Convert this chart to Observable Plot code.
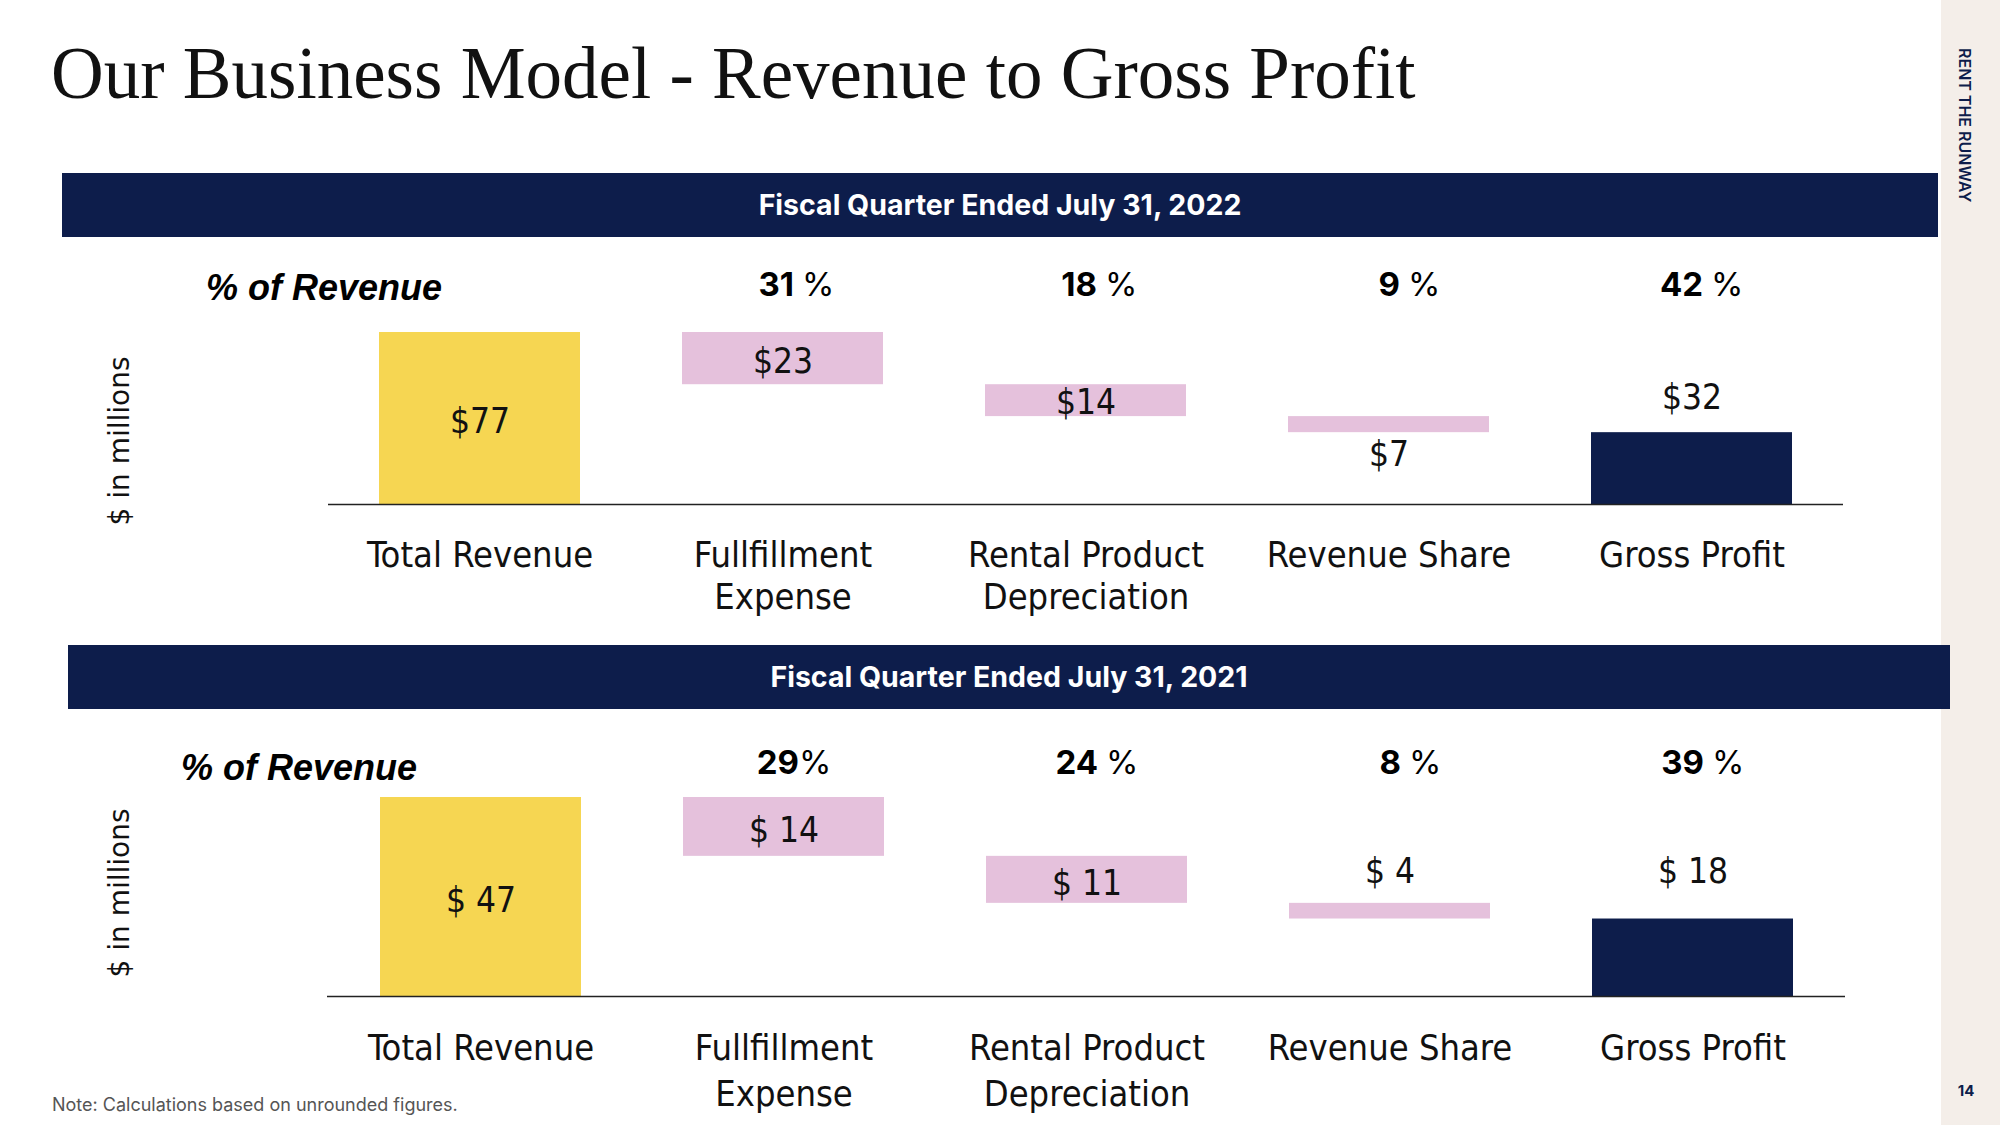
<!DOCTYPE html>
<html>
<head>
<meta charset="utf-8">
<script src="https://cdn.jsdelivr.net/npm/d3@7"></script>
<script src="https://cdn.jsdelivr.net/npm/@observablehq/plot@0.6"></script>
<style>
  html, body { margin: 0; padding: 0; background: #fff; }
  #page { position: relative; width: 2000px; height: 1125px; overflow: hidden; background: #fff; }
  .abs { position: absolute; line-height: 1; white-space: nowrap; }
  #title { left: 51px; top: 37px; font-family: "Liberation Serif", "DejaVu Serif", serif; font-size: 73px; color: #111; }
  .banner { position: absolute; background: #0d1d4b; display: flex; align-items: center; justify-content: center;
            color: #fff; font-family: Inter, "Liberation Sans", sans-serif; font-weight: 700; font-size: 28.5px; line-height: 1; }
  #sidebar { left: 1941px; top: 0; width: 59px; height: 1125px; background: #f4eee9; }
  #brand { left: 1957px; top: 48px; writing-mode: vertical-rl; font-family: Inter, "Liberation Sans", sans-serif;
           font-weight: 600; font-size: 16px; letter-spacing: 0px; color: #0d1d4b; }
  #pageno { left: 1966px; top: 1090px; transform: translate(-50%, -50%); font-family: Inter, "Liberation Sans", sans-serif;
            font-weight: 700; font-size: 15px; color: #0d1d4b; }
  .pctrev { font-family: "Liberation Sans", Arial, sans-serif; font-weight: 700; font-style: italic; font-size: 36px; color: #000; }
  .ylab { transform: translate(-50%, -50%) rotate(-90deg); font-family: "DejaVu Sans", sans-serif; font-size: 28px; color: #111; }
  #note { left: 52px; top: 1096px; font-family: Inter, "Liberation Sans", sans-serif; font-size: 18px; color: #555; }
  .chart { position: absolute; left: 0; }
</style>
</head>
<body>
<div id="page">
  <div id="sidebar" class="abs"></div>
  <div id="brand" class="abs"></div>
  <div id="pageno" class="abs"></div>
  <div id="title" class="abs"></div>
  <div id="banner1" class="banner" style="left:62px;top:173px;width:1876px;height:64px;"></div>
  <div id="banner2" class="banner" style="left:68px;top:645px;width:1882px;height:64px;"></div>
  <div id="pct1" class="abs pctrev" style="left:206px;top:270px;"></div>
  <div id="pct2" class="abs pctrev" style="left:181px;top:750px;"></div>
  <div id="ylab1" class="abs ylab" style="left:120px;top:441px;"></div>
  <div id="ylab2" class="abs ylab" style="left:120px;top:893px;"></div>
  <div id="chart1" class="chart" style="top:250px;"></div>
  <div id="chart2" class="chart" style="top:720px;"></div>
  <div id="note" class="abs"></div>
</div>
<script>
// ---------- data ----------
const titleText = "Our Business Model - Revenue to Gross Profit";
const brandText = "RENT THE RUNWAY";
const pageNumber = "14";
const pctHeader = "% of Revenue";
const yAxisLabel = "$ in millions";
const noteText = "Note: Calculations based on unrounded figures.";

const categories = ["Total Revenue", "Fullfillment\nExpense", "Rental Product\nDepreciation", "Revenue Share", "Gross Profit"];
const kinds = ["total", "cost", "cost", "cost", "profit"];

const banner2022 = "Fiscal Quarter Ended July 31, 2022";
const values2022 = [77.1, 23.4, 14.3, 7.2, 32.2];
const labels2022 = ["$77", "$23", "$14", "$7", "$32"];
const pct2022 = ["31 %", "18 %", "9 %", "42 %"];

const banner2021 = "Fiscal Quarter Ended July 31, 2021";
const values2021 = [47.0, 13.9, 11.1, 3.7, 18.3];
const labels2021 = ["$ 47", "$ 14", "$ 11", "$ 4", "$ 18"];
const pct2021 = ["29%", "24 %", "8 %", "39 %"];

// ---------- static text ----------
document.getElementById("title").textContent = titleText;
document.getElementById("brand").textContent = brandText;
document.getElementById("pageno").textContent = pageNumber;
document.getElementById("banner1").textContent = banner2022;
document.getElementById("banner2").textContent = banner2021;
document.getElementById("pct1").textContent = pctHeader;
document.getElementById("pct2").textContent = pctHeader;
document.getElementById("ylab1").textContent = yAxisLabel;
document.getElementById("ylab2").textContent = yAxisLabel;
document.getElementById("note").textContent = noteText;

// ---------- chart ----------
const COLORS = {total: "#f6d652", cost: "#e5c1dc", profit: "#0d1d4b"};
const labelFont = "'DejaVu Sans Condensed', 'DejaVu Sans', sans-serif";
const pctFont = "Inter, 'Liberation Sans', sans-serif";

function waterfall(values) {
  let running = values[0];
  return categories.map((cat, i) => {
    const v = values[i];
    let y1, y2;
    if (kinds[i] === "cost") { y2 = running; y1 = running - v; running = y1; }
    else { y1 = 0; y2 = v; }
    return {cat, kind: kinds[i], value: v, y1, y2};
  });
}

function drawPanel(el, values, labels, pcts, s) {
  const rows = waterfall(values).map((r, i) => ({...r, label: labels[i]}));
  const pctRows = pcts.map((p, i) => ({cat: categories[i + 1], num: p.replace(/\s*%$/, ""), spaced: /\s%$/.test(p)}));
  const anchor = (r, place) => place === "mid" ? (r.y1 + r.y2) / 2 : place === "above" ? Math.max(r.y1, r.y2) : Math.min(r.y1, r.y2);
  const valueMarks = rows.map((r, i) => Plot.text([r], {
    x: "cat", y: () => anchor(r, s.place[i]), text: "label",
    lineAnchor: "bottom", dy: s.labelDy[i],
    fontFamily: labelFont, fontSize: 35, fill: "#111"
  }));
  const common = {x: "cat", frameAnchor: "bottom", lineAnchor: "bottom", fontFamily: labelFont, fontSize: 36, fill: "#111"};
  const pctCommon = {x: "cat", frameAnchor: "top", lineAnchor: "bottom", dy: s.pctDy, fontFamily: pctFont, fontSize: 33, fill: "#000"};
  const chart = Plot.plot({
    width: 1940,
    height: s.height,
    marginLeft: s.ml, marginRight: s.mr, marginTop: s.mt, marginBottom: s.mb,
    x: {type: "band", domain: categories, paddingInner: 0.337, paddingOuter: 0.1685, axis: null},
    y: {domain: [0, values[0]], axis: null},
    color: {domain: Object.keys(COLORS), range: Object.values(COLORS)},
    style: {background: "transparent", overflow: "visible", fontStretch: "condensed"},
    marks: [
      Plot.barY(rows, {x: "cat", y1: "y1", y2: "y2", fill: "kind"}),
      Plot.ruleY([0], {stroke: "#222", strokeWidth: 1.6}),
      ...valueMarks,
      Plot.text(rows, {...common, text: d => d.cat.split("\n")[0], dy: s.cat1Dy}),
      Plot.text(rows, {...common, text: d => d.cat.split("\n")[1] || "", dy: s.cat2Dy}),
      Plot.text(pctRows.filter(d => d.spaced), {...pctCommon, text: "num", textAnchor: "end", dx: 11, fontWeight: 700}),
      Plot.text(pctRows.filter(d => !d.spaced), {...pctCommon, text: "num", textAnchor: "end", dx: 15, fontWeight: 700}),
      Plot.text(pctRows.filter(d => d.spaced), {...pctCommon, text: () => "%", textAnchor: "start", dx: 19, fontWeight: 400}),
      Plot.text(pctRows.filter(d => !d.spaced), {...pctCommon, text: () => "%", textAnchor: "start", dx: 15, fontWeight: 400})
    ]
  });
  document.getElementById(el).appendChild(chart);
}

drawPanel("chart1", values2022, labels2022, pct2022, {
  height: 380, ml: 328, mr: 97, mt: 82, mb: 126,
  place: ["mid", "mid", "mid", "below", "above"],
  labelDy: [14, 14, 13, 33, -24],
  cat1Dy: 62, cat2Dy: 104, pctDy: -37
});
drawPanel("chart2", values2021, labels2021, pct2021, {
  height: 405, ml: 327, mr: 95, mt: 77, mb: 129,
  place: ["mid", "mid", "mid", "above", "above"],
  labelDy: [15, 15, 15, -20, -36],
  cat1Dy: 63, cat2Dy: 109, pctDy: -24
});
</script>
</body>
</html>
